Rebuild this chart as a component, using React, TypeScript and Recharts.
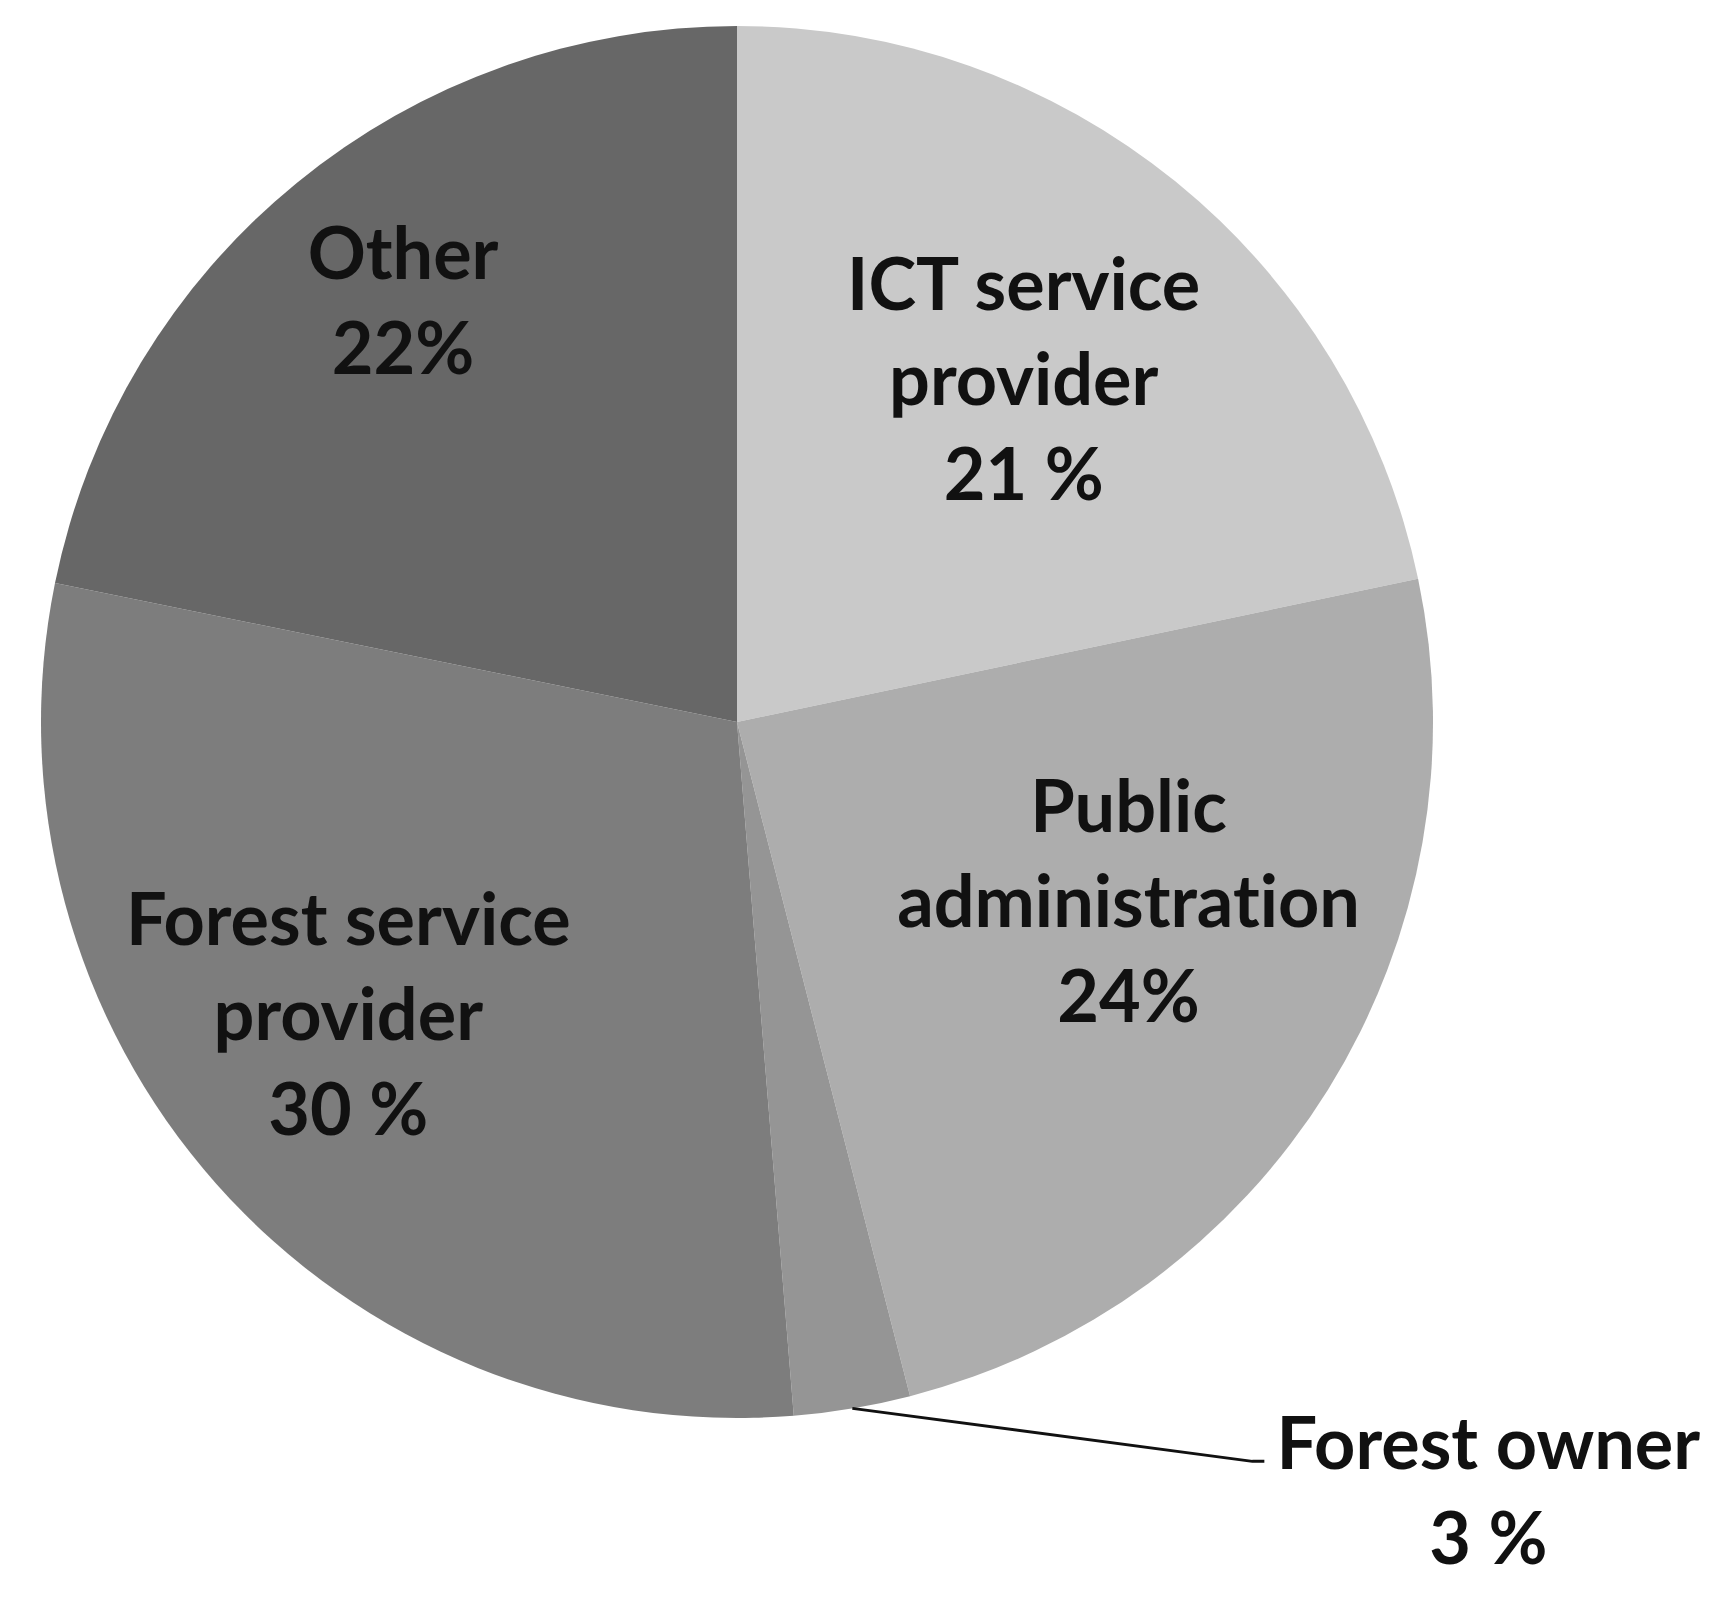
import { PieChart, Pie, Cell } from 'recharts'

// slice names, label lines and shares
const categories = ['ICT service provider', 'Public administration', 'Forest owner', 'Forest service provider', 'Other']
const labelLines = [
  ['ICT service', 'provider', '21 %'],
  ['Public', 'administration', '24%'],
  ['Forest owner', '3 %'],
  ['Forest service', 'provider', '30 %'],
  ['Other', '22%'],
]
const shares = [21.7, 24.3, 2.7, 29.5, 21.8]
const colors = ['#c9c9c9', '#adadad', '#959595', '#7d7d7d', '#676767']

const data = categories.map((name, i) => ({ name, value: shares[i] }))

const RAD = Math.PI / 180
const FONT = 'Lato, "Open Sans", sans-serif'
const FONT_SIZE = 72
const LINE_H = 95

// where each label sits, as a fraction of the radius and a tweak to the mid angle
const labelRadius = [0.64, 0.62, 1, 0.7, 0.77]
const labelAngleShift = [-1, 7, 0, -4.5, -0.7]

const textStyle = { fontVariantLigatures: 'none' as const }

function renderLabel(props: any) {
  const { cx, cy, midAngle, outerRadius, index } = props
  const lines = labelLines[index]
  if (index === 2) {
    // small slice: leader line to a label outside the pie
    const sx = cx + outerRadius * Math.cos(-midAngle * RAD)
    const sy = cy + outerRadius * Math.sin(-midAngle * RAD)
    const ex = sx + 400
    const ey = sy + 53
    return (
      <g>
        <polyline
          points={`${sx},${sy} ${ex},${ey} ${ex + 12},${ey}`}
          fill="none"
          stroke="#111"
          strokeWidth={3}
        />
        {lines.map((t, k) => (
          <text
            key={k}
            x={ex + 236}
            y={ey + 8 + k * LINE_H}
            textAnchor="middle"
            fill="#111"
            fontFamily={FONT}
            fontWeight={700}
            fontSize={FONT_SIZE}
            style={textStyle}
          >
            {t}
          </text>
        ))}
      </g>
    )
  }
  const a = (midAngle + labelAngleShift[index]) * RAD
  const r = outerRadius * labelRadius[index]
  const x = cx + r * Math.cos(-a)
  const y = cy + r * Math.sin(-a)
  const top = y - ((lines.length - 1) * LINE_H) / 2 + FONT_SIZE * 0.33
  return (
    <g>
      {lines.map((t, k) => (
        <text
          key={k}
          x={x}
          y={top + k * LINE_H}
          textAnchor="middle"
          fill="#111"
          fontFamily={FONT}
          fontWeight={700}
          fontSize={FONT_SIZE}
          style={textStyle}
        >
          {t}
        </text>
      ))}
    </g>
  )
}

export default function App() {
  return (
    <div style={{ width: 1724, height: 1611, background: '#fff' }}>
      <style>{'body{margin:0}'}</style>
      <PieChart width={1724} height={1611} margin={{ top: 0, right: 0, bottom: 0, left: 0 }}>
        <Pie
          data={data}
          dataKey="value"
          nameKey="name"
          cx={737}
          cy={722}
          outerRadius={696}
          startAngle={90}
          endAngle={-270}
          stroke="none"
          label={renderLabel}
          labelLine={false}
          isAnimationActive={false}
        >
          {data.map((d, i) => (
            <Cell key={d.name} fill={colors[i]} />
          ))}
        </Pie>
      </PieChart>
    </div>
  )
}
